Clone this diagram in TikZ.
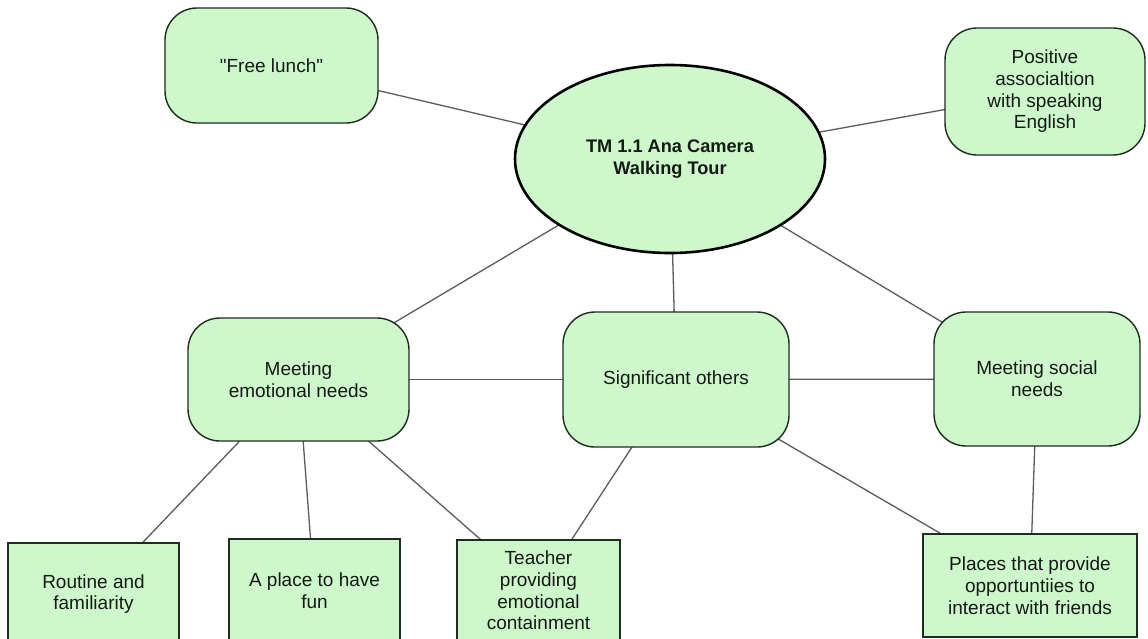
\documentclass[tikz,border=0pt]{standalone}
\usepackage{fontspec}
\setmainfont{Liberation Sans}
% same face without TeX input mapping, so " stays a straight quote
\newfontfamily\straightfont{Liberation Sans}
\usetikzlibrary{shapes.geometric,backgrounds}

\definecolor{nodefill}{RGB}{206,247,204}
\definecolor{edgeline}{RGB}{92,92,92}
\definecolor{nodeline}{RGB}{30,45,30}
\definecolor{txt}{RGB}{20,26,20}

\begin{document}
\begin{tikzpicture}[x=1pt,y=-1pt,
  base/.style={fill=nodefill, text=txt, align=center, inner sep=0pt,
               font=\fontsize{19}{21.7}\selectfont},
  topic/.style={base, ellipse, draw=black, line width=2.6pt,
                font=\bfseries\fontsize{18.2}{21.7}\selectfont},
  theme/.style={base, rectangle, draw=nodeline, line width=1.4pt, rounded corners=32pt},
  detail/.style={base, rectangle, draw=nodeline, line width=1.6pt},
  link/.style={draw=edgeline, line width=1.3pt}]

\useasboundingbox (0,0) rectangle (1148,638);
\clip (0,0) rectangle (1148,638);

% central topic
\node[topic, minimum width=310, minimum height=188] (tm) at (670,159)
  {TM 1.1 Ana Camera\\Walking Tour};

% upper satellites
\node[theme, minimum width=213, minimum height=115] (lunch) at (271.5,65.5)
  {\straightfont "Free lunch"};
\node[theme, minimum width=200, minimum height=127] (pos) at (1045,91.5)
  {Positive\\associaltion\\with speaking\\English};

% middle row
\node[theme, minimum width=221, minimum height=123] (emo) at (298.5,379.5)
  {Meeting\\emotional needs};
\node[theme, minimum width=226, minimum height=135] (sig) at (676,379.5)
  {Significant others};
\node[theme, minimum width=206, minimum height=134] (soc) at (1037,379)
  {Meeting social\\needs};

% bottom row
\node[detail, minimum width=171, minimum height=102] (rout) at (93.5,594)
  {Routine and\\familiarity};
\node[detail, minimum width=171, minimum height=104] (fun) at (314.5,591)
  {A place to have\\fun};
\node[detail, minimum width=163, minimum height=101] (teach) at (538.5,590.5)
  {Teacher\\providing\\emotional\\containment};
\node[detail, minimum width=214, minimum height=103] (places) at (1030,585.5)
  {Places that provide\\opportuntiies to\\interact with friends};

% connectors run centre to centre behind the filled nodes
\begin{pgfonlayer}{background}
  \fill[white] (0,0) rectangle (1148,638);
  \draw[link] (lunch.center) -- (tm.center);
  \draw[link] (pos.center) -- (tm.center);
  \draw[link] (tm.center) -- (emo.center);
  \draw[link] (tm.center) -- (sig.center);
  \draw[link] (tm.center) -- (soc.center);
  \draw[link] (emo.center) -- (sig.center);
  \draw[link] (sig.center) -- (soc.center);
  \draw[link] (emo.center) -- (rout.center);
  \draw[link] (emo.center) -- (fun.center);
  \draw[link] (emo.center) -- (teach.center);
  \draw[link] (sig.center) -- (teach.center);
  \draw[link] (sig.center) -- (places.center);
  \draw[link] (soc.center) -- (places.center);
\end{pgfonlayer}
\end{tikzpicture}
\end{document}
